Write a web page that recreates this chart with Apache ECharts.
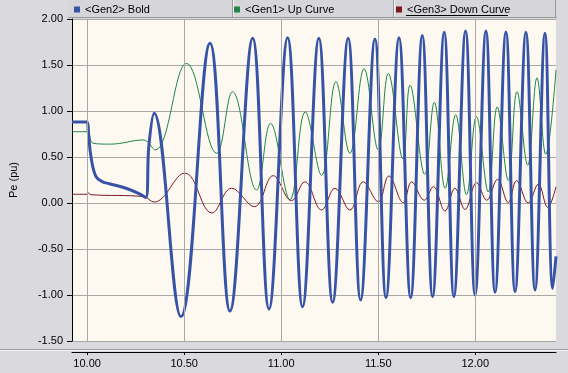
<!DOCTYPE html>
<html>
<head>
<meta charset="utf-8">
<script src="https://cdn.jsdelivr.net/npm/echarts@6/dist/echarts.min.js"></script>
<style>
html,body{margin:0;padding:0;background:#dadade;}
#chart{width:568px;height:373px;}
</style>
</head>
<body>
<div id="chart"></div>
<script>
// ---- data ----
const seriesNames = ['<Gen2> Bold', '<Gen1> Up Curve', '<Gen3> Down Curve'];
const xTickValues = [10.0, 10.5, 11.0, 11.5, 12.0];

const gen2Time = [9.922, 10.000, 10.006, 10.020, 10.045, 10.080, 10.115, 10.200, 10.270, 10.302, 10.318, 10.345,
  10.483, 10.633, 10.736, 10.853, 10.937, 11.033, 11.110, 11.194, 11.265, 11.345, 11.409, 11.483, 11.540,
  11.607, 11.667, 11.727, 11.780, 11.840, 11.890, 11.950, 11.999, 12.055, 12.102, 12.158, 12.205, 12.261,
  12.308, 12.359, 12.399, 12.416];
const gen2Value = [0.88, 0.88, 0.78, 0.50, 0.29, 0.23, 0.21, 0.16, 0.10, 0.06, 0.62, 0.975,
  -1.235, 1.736, -1.174, 1.79, -1.152, 1.797, -1.127, 1.79, -1.08, 1.79, -1.054, 1.783, -1.029,
  1.797, -1.029, 1.82, -1.018, 1.855, -1.018, 1.87, -1.0, 1.87, -0.97, 1.86, -0.964, 1.855,
  -0.946, 1.845, -0.93, -0.58];

const gen1Time = [9.922, 10.000, 10.005, 10.030, 10.120, 10.290, 10.350, 10.512, 10.667, 10.749, 10.873, 10.945,
  11.045, 11.124, 11.208, 11.282, 11.354, 11.427, 11.500, 11.552, 11.627, 11.664, 11.740, 11.789, 11.845,
  11.899, 11.955, 12.006, 12.067, 12.113, 12.170, 12.215, 12.270, 12.318, 12.363, 12.416];
const gen1Value = [0.775, 0.775, 0.866, 0.65, 0.64, 0.685, 0.576, 1.518, 0.54, 1.21, 0.14, 0.866,
  0.035, 0.99, 0.30, 1.32, 0.54, 1.46, 0.576, 1.41, 0.48, 1.28, 0.31, 1.095, 0.16,
  0.96, 0.09, 0.94, 0.12, 1.045, 0.245, 1.21, 0.41, 1.36, 0.53, 1.446];

const gen3Time = [9.922, 10.000, 10.005, 10.020, 10.290, 10.345, 10.504, 10.643, 10.744, 10.862, 10.959, 11.053,
  11.122, 11.208, 11.277, 11.354, 11.423, 11.500, 11.555, 11.629, 11.672, 11.737, 11.784, 11.844, 11.895,
  11.947, 12.007, 12.059, 12.115, 12.170, 12.213, 12.273, 12.325, 12.373, 12.416];
const gen3Value = [0.095, 0.095, 0.11, 0.09, 0.07, 0.01, 0.325, -0.108, 0.16, -0.04, 0.297, 0.025,
  0.23, -0.076, 0.16, -0.076, 0.23, 0.014, 0.293, 0.003, 0.23, 0.03, 0.177, -0.087, 0.16,
  -0.07, 0.22, 0.03, 0.258, 0.005, 0.243, 0.0, 0.205, -0.047, 0.177];

const zip = (t, v) => t.map((x, i) => [x, v[i]]);

const FONT = 'Liberation Sans, Arial, sans-serif';
const colors = ['#3653a6', '#1f8647', '#7c1822'];

const chart = echarts.init(document.getElementById('chart'), null, {renderer: 'canvas'});

const legendLefts = [74, 234, 396];

chart.setOption({
  animation: false,
  backgroundColor: '#dadade',
  textStyle: {fontFamily: FONT},
  grid: {left: 72, right: 12, top: 19, bottom: 32, show: true, backgroundColor: '#fdf9f1', borderWidth: 0},
  legend: seriesNames.map((n, i) => ({
    data: [n], left: legendLefts[i], top: 4, padding: 0, icon: 'rect', itemWidth: 6, itemHeight: 6,
    selectedMode: false,
    textStyle: {fontSize: 11, color: '#000', fontFamily: FONT}
  })),
  xAxis: {
    type: 'value', min: 9.922, max: 12.416, offset: 11,
    axisLine: {show: true, onZero: false, lineStyle: {color: '#000', width: 1}},
    axisTick: {show: true, length: 3, lineStyle: {color: '#000'}, customValues: xTickValues},
    axisLabel: {fontSize: 11, color: '#000', margin: 6, customValues: xTickValues,
      formatter: v => v.toFixed(2)},
    splitLine: {show: false}
  },
  yAxis: {
    type: 'value', min: -1.5, max: 2, interval: 0.5,
    name: 'Pe (pu)', nameLocation: 'middle', nameGap: 53, nameRotate: 90,
    nameTextStyle: {fontSize: 11, color: '#000', fontFamily: FONT},
    axisLine: {show: true, lineStyle: {color: '#000', width: 1}},
    axisTick: {show: true, length: 5, lineStyle: {color: '#000'}},
    axisLabel: {fontSize: 11, color: '#000', margin: 9, formatter: v => v.toFixed(2)},
    splitLine: {show: true, lineStyle: {color: '#a8a8a8', width: 1}}
  },
  series: [
    {
      name: 'vgrid', type: 'line', data: [], z: 1, silent: true,
      markLine: {
        silent: true, symbol: ['none', 'none'], label: {show: false},
        lineStyle: {color: '#a8a8a8', width: 1, type: 'solid'},
        data: xTickValues.map(v => ({xAxis: v}))
      }
    },
    {name: seriesNames[1], type: 'line', data: zip(gen1Time, gen1Value), smooth: 0.4, showSymbol: false,
      z: 3, lineStyle: {color: colors[1], width: 1}, itemStyle: {color: colors[1]}},
    {name: seriesNames[2], type: 'line', data: zip(gen3Time, gen3Value), smooth: 0.4, showSymbol: false,
      z: 3, lineStyle: {color: colors[2], width: 1}, itemStyle: {color: colors[2]}},
    {name: seriesNames[0], type: 'line', data: zip(gen2Time, gen2Value), smooth: 0.4, showSymbol: false,
      z: 4, lineStyle: {color: colors[0], width: 3}, itemStyle: {color: colors[0]}}
  ],
  graphic: [
    {type: 'rect', z: -1, shape: {x: 68, y: 0, width: 489, height: 17}, style: {fill: '#d6d6da'}, silent: true},
    {type: 'line', shape: {x1: 68, y1: 17.5, x2: 557, y2: 17.5}, style: {stroke: '#9a9a9a', lineWidth: 1}, silent: true},
    {type: 'line', shape: {x1: 232.5, y1: 0, x2: 232.5, y2: 17}, style: {stroke: '#9a9a9a', lineWidth: 1}, silent: true},
    {type: 'line', shape: {x1: 233.5, y1: 0, x2: 233.5, y2: 17}, style: {stroke: '#f4f4f4', lineWidth: 1}, silent: true},
    {type: 'line', shape: {x1: 393.5, y1: 0, x2: 393.5, y2: 17}, style: {stroke: '#9a9a9a', lineWidth: 1}, silent: true},
    {type: 'line', shape: {x1: 394.5, y1: 0, x2: 394.5, y2: 17}, style: {stroke: '#f4f4f4', lineWidth: 1}, silent: true},
    {type: 'line', shape: {x1: 555.5, y1: 0, x2: 555.5, y2: 17}, style: {stroke: '#9a9a9a', lineWidth: 1}, silent: true},
    {type: 'line', shape: {x1: 406, y1: 15.5, x2: 508, y2: 15.5}, style: {stroke: '#000', lineWidth: 1}, silent: true},
    {type: 'line', shape: {x1: 0, y1: 349.5, x2: 568, y2: 349.5}, style: {stroke: '#a0a0a0', lineWidth: 1}, silent: true},
    {type: 'line', shape: {x1: 0, y1: 350.5, x2: 568, y2: 350.5}, style: {stroke: '#f4f4f4', lineWidth: 1}, silent: true}
  ]
});
</script>
</body>
</html>
